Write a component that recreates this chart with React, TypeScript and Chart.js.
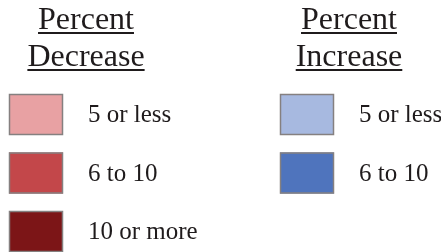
import React, { useEffect, useRef } from "react";
import { Chart, registerables } from "chart.js";

Chart.register(...registerables);

const groupTitles = [["Percent", "Decrease"], ["Percent", "Increase"]];
const decreaseLabels = ["5 or less", "6 to 10", "10 or more"];
const increaseLabels = ["5 or less", "6 to 10"];
const decreaseColors = ["#E8A1A3", "#C3474A", "#7C1517"];
const increaseColors = ["#A7B9E0", "#4F74BD"];

const legendPlugin = {
  id: "twoColumnLegend",
  afterDraw(chart: any) {
    const ctx = chart.ctx as CanvasRenderingContext2D;
    const groups = chart.data.datasets.map((ds: any) => ({
      labels: ds.data.map((_: any, i: number) => chart.data.labels[ds.groupIndex][i]),
      colors: ds.backgroundColor,
      title: ds.title,
    }));
    const colX = [9, 280];
    const centerX = [86, 349];
    ctx.save();
    groups.forEach((g: any, gi: number) => {
      ctx.font = "32px 'Liberation Serif'";
      ctx.fillStyle = "#1f1b1c";
      ctx.textAlign = "center";
      ctx.textBaseline = "alphabetic";
      const baselines = [29, 66];
      g.title.forEach((t: string, ti: number) => {
        ctx.fillText(t, centerX[gi], baselines[ti]);
        const w = ctx.measureText(t).width;
        ctx.fillRect(centerX[gi] - w / 2, baselines[ti] + 3, w, 2);
      });
      g.labels.forEach((lab: string, i: number) => {
        const top = 94 + i * 58.5;
        ctx.fillStyle = g.colors[i];
        ctx.fillRect(colX[gi], top, 54, 41);
        ctx.strokeStyle = "#858080";
        ctx.lineWidth = 1.5;
        ctx.strokeRect(colX[gi] + 0.5, top + 0.5, 53, 40);
        ctx.font = "25px 'Liberation Serif'";
        ctx.fillStyle = "#1f1b1c";
        ctx.textAlign = "left";
        ctx.fillText(lab, colX[gi] + 79, top + 28);
      });
    });
    ctx.restore();
  },
};

export default function App() {
  const ref = useRef<HTMLCanvasElement>(null);
  useEffect(() => {
    document.body.style.margin = "0";
    const chart = new Chart(ref.current!, {
      type: "bar",
      data: {
        labels: [decreaseLabels, increaseLabels] as any,
        datasets: [
          { data: decreaseLabels.map(() => 0), backgroundColor: decreaseColors, title: groupTitles[0], groupIndex: 0 } as any,
          { data: increaseLabels.map(() => 0), backgroundColor: increaseColors, title: groupTitles[1], groupIndex: 1 } as any,
        ],
      },
      options: {
        animation: false,
        responsive: false,
        events: [],
        plugins: { legend: { display: false }, tooltip: { enabled: false } },
        scales: { x: { display: false }, y: { display: false } },
      },
      plugins: [legendPlugin],
    });
    return () => chart.destroy();
  }, []);
  return <canvas ref={ref} width={441} height={252} style={{ display: "block" }} />;
}
